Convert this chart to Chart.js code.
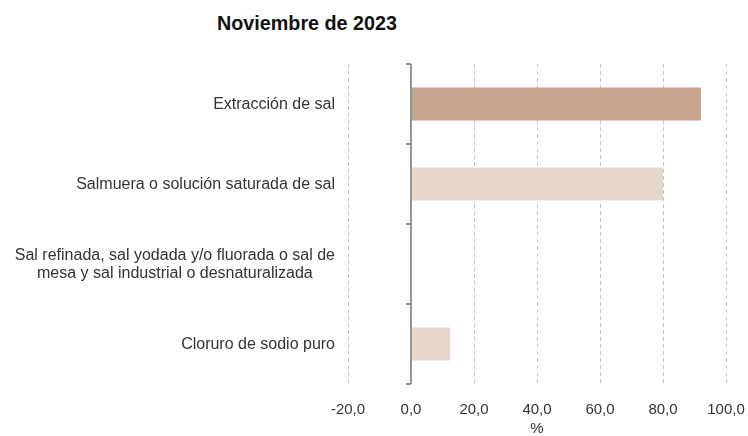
<!DOCTYPE html>
<html>
<head>
<meta charset="utf-8">
<script src="https://cdn.jsdelivr.net/npm/chart.js@4.4.0/dist/chart.umd.min.js"></script>
<style>
  body { margin: 0; background: #fff; }
  #wrap { position: relative; width: 748px; height: 436px; }
  #title {
    position: absolute; left: 217px; top: 11px;
    font-family: "Liberation Sans", Arial, sans-serif;
    font-weight: bold; font-size: 21px; color: #111; white-space: nowrap;
    transform-origin: 0 0;
  }
  canvas { position: absolute; left: 0; top: 0; }
</style>
</head>
<body>
<div id="wrap">
  <div id="title">Noviembre de 2023</div>
  <canvas id="chart" width="748" height="436"></canvas>
</div>
<script>
const categories = [
  ["Extracción de sal"],
  ["Salmuera o solución saturada de sal"],
  ["Sal refinada, sal yodada y/o fluorada o sal de", "mesa y sal industrial o desnaturalizada"],
  ["Cloruro de sodio puro"]
];
const values = [92.1, 80.0, 0, 12.4];
const barColors = ["#c5a590", "#e6d7cd", "#e6d7cd", "#e6d7cd"];
const xTicks = [-20, 0, 20, 40, 60, 80, 100];
const xTitle = "%";

// squeeze the bold title to a narrow look
const title = document.getElementById("title");
title.style.transform = "scaleX(" + (180 / title.getBoundingClientRect().width) + ")";

const fontFamily = '"Liberation Sans", Arial, sans-serif';

// y labels (centred lines, right-aligned block), the zero axis with its ticks, the % title
const customAxis = {
  id: "customAxis",
  afterDraw(chart) {
    const ctx = chart.ctx;
    const x = chart.scales.x;
    const y = chart.scales.y;
    const area = chart.chartArea;

    ctx.save();
    ctx.font = "16px " + fontFamily;
    ctx.fillStyle = "#333";
    ctx.textAlign = "center";
    ctx.textBaseline = "middle";
    const right = area.left - 13;
    categories.forEach((lines, i) => {
      const w = Math.max(...lines.map(l => ctx.measureText(l).width));
      const cy = y.getPixelForValue(i) + 1;
      const lh = 18;
      lines.forEach((l, j) => {
        ctx.fillText(l, right - w / 2, cy + (j - (lines.length - 1) / 2) * lh);
      });
    });

    ctx.font = "15px " + fontFamily;
    ctx.fillText(xTitle, x.getPixelForValue(40), area.bottom + 45);

    const x0 = x.getPixelForValue(0);
    ctx.strokeStyle = "#8c8c8c";
    ctx.lineWidth = 1.8;
    ctx.beginPath();
    ctx.moveTo(x0, area.top);
    ctx.lineTo(x0, area.bottom);
    const band = (y.getPixelForValue(1) - y.getPixelForValue(0));
    for (let i = 0; i <= categories.length; i++) {
      const py = y.getPixelForValue(0) - band / 2 + band * i;
      ctx.moveTo(x0 - 5, py);
      ctx.lineTo(x0, py);
    }
    ctx.stroke();
    ctx.restore();
  }
};

new Chart(document.getElementById("chart"), {
  type: "bar",
  data: {
    labels: categories,
    datasets: [{
      data: values,
      backgroundColor: barColors,
      borderWidth: 0,
      barPercentage: 0.41,
      categoryPercentage: 1
    }]
  },
  options: {
    indexAxis: "y",
    responsive: false,
    animation: false,
    layout: { padding: { top: 64, right: 22, bottom: 0, left: 0 } },
    plugins: { legend: { display: false }, tooltip: { enabled: false } },
    scales: {
      x: {
        min: -20,
        max: 100,
        afterBuildTicks: s => { s.ticks = xTicks.map(v => ({ value: v })); },
        afterFit: s => { s.height = 52; s.paddingLeft = 0; s.paddingRight = 0; },
        grid: {
          drawTicks: false,
          color: ctx => ctx.tick && ctx.tick.value === 0 ? "rgba(0,0,0,0)" : "#c4c4c4",
          lineWidth: 1
        },
        border: { display: false, dash: [4, 3] },
        ticks: {
          padding: 17,
          maxRotation: 0,
          color: "#333",
          font: { family: fontFamily, size: 15 },
          callback: v => v.toFixed(1).replace(".", ",")
        }
      },
      y: {
        grid: { display: false },
        border: { display: false },
        ticks: { display: false },
        afterFit: s => { s.width = 348; }
      }
    }
  },
  plugins: [customAxis]
});
</script>
</body>
</html>
